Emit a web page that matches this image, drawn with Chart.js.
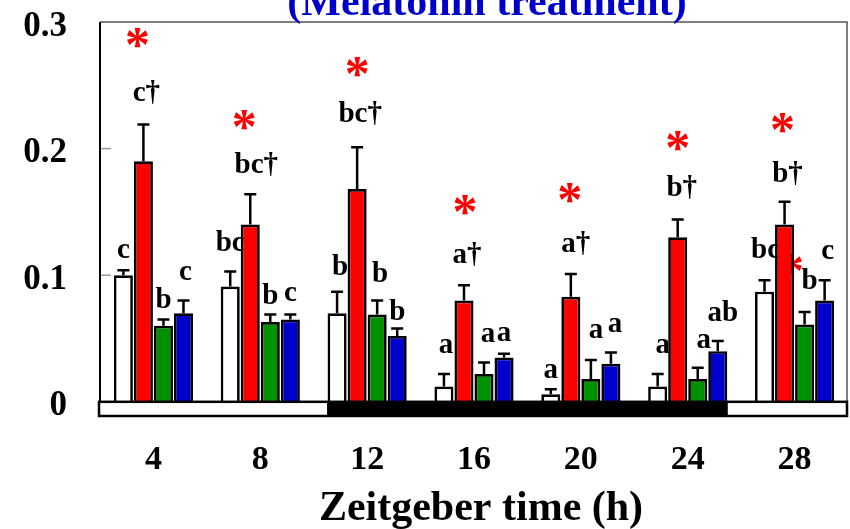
<!DOCTYPE html>
<html>
<head>
<meta charset="utf-8">
<script src="https://cdn.jsdelivr.net/npm/chart.js@4/dist/chart.umd.min.js"></script>
<style>
  html, body { margin: 0; padding: 0; background: #ffffff; }
  #wrap { width: 850px; height: 529px; position: relative; }
</style>
</head>
<body>
<div id="wrap"><canvas id="chart"></canvas></div>
<script>
// Sampling times (Zeitgeber time, h)
const hours = ['4', '8', '12', '16', '20', '24', '28'];
const yTicks = [0, 0.1, 0.2, 0.3];
const yTickText = ['0', '0.1', '0.2', '0.3'];

// Group means and SE (upper error only)
const whiteVals = [0.100, 0.091, 0.070, 0.012, 0.006, 0.012, 0.087];
const whiteErr  = [0.004, 0.012, 0.017, 0.010, 0.004, 0.010, 0.009];
const redVals   = [0.190, 0.140, 0.168, 0.080, 0.083, 0.130, 0.140];
const redErr    = [0.029, 0.024, 0.033, 0.012, 0.018, 0.014, 0.018];
const greenVals = [0.060, 0.063, 0.069, 0.022, 0.018, 0.018, 0.061];
const greenErr  = [0.005, 0.006, 0.011, 0.009, 0.015, 0.009, 0.010];
const blueVals  = [0.070, 0.065, 0.052, 0.035, 0.030, 0.040, 0.080];
const blueErr   = [0.010, 0.004, 0.006, 0.003, 0.009, 0.008, 0.016];

// Significance letters
const whiteSig = ['c', 'bc', 'b', 'a', 'a', 'a', 'bc'];
const redSig   = ['c\u2020', 'bc\u2020', 'bc\u2020', 'a\u2020', 'a\u2020', 'b\u2020', 'b\u2020'];
const greenSig = ['b', 'b', 'b', 'a', 'a', 'a', 'b'];
const blueSig  = ['c', 'c', 'b', 'a', 'a', 'ab', 'c'];

// Light/dark phases: first and last dark sampling index
const darkFirst = 2;
const darkLast = 5;

// Letter placement: px above the error cap, px sideways from the bar centre
const whiteLift  = [12, 20, 17, 21, 11, 21, 22];
const whiteShift = [0, 0, 3, 2, 0, 5, 1];
const redLift    = [24, 21, 25, 22, 22, 24, 20];
const redShift   = [3, 6, 3, 3, 5, 4, 3];
const greenLift  = [12, 10, 19, 21, 22, 20, 23];
const greenShift = [0, 0, 3, 4, 5, 6, 5];
const blueLift   = [21, 13, 8, 13, 20, 20, 21];
const blueShift  = [2, 0, 0, 0, 4, 5, 3];
// Red asterisks: px above the red letters, px sideways
const starLift  = [63, 53, 55, 58, 59, 55, 59];
const starShift = [-6, -6, 0, 1, -1, 0, -2];
// Stray asterisk tucked behind the last red bar
const backStar = { index: 6, shift: 7, drop: 39 };

const series = [
  { name: 'Group A', vals: whiteVals, err: whiteErr, sig: whiteSig, fill: '#ffffff', lift: whiteLift, shift: whiteShift },
  { name: 'Group B', vals: redVals,   err: redErr,   sig: redSig,   fill: '#ff0000', lift: redLift,   shift: redShift },
  { name: 'Group C', vals: greenVals, err: greenErr, sig: greenSig, fill: '#009100', lift: greenLift, shift: greenShift },
  { name: 'Group D', vals: blueVals,  err: blueErr,  sig: blueSig,  fill: '#0000cc', lift: blueLift,  shift: blueShift }
];

const CAT_PCT = 0.75;
const SERIF = '"Liberation Serif", "Times New Roman", serif';

function drawText(ctx, str, x, y, font, color, align) {
  ctx.save();
  ctx.font = font;
  ctx.fillStyle = color;
  ctx.textAlign = align || 'center';
  ctx.textBaseline = 'alphabetic';
  ctx.fillText(str, x, y);
  ctx.restore();
}

// Draw a glyph so that its inked box is centred on (x, y)
function drawCentered(ctx, str, x, y, font, color) {
  ctx.save();
  ctx.font = font;
  ctx.fillStyle = color;
  ctx.textAlign = 'left';
  ctx.textBaseline = 'alphabetic';
  const m = ctx.measureText(str);
  const w = m.actualBoundingBoxRight + m.actualBoundingBoxLeft;
  const h = m.actualBoundingBoxAscent + m.actualBoundingBoxDescent;
  ctx.fillText(str, x - w / 2 + m.actualBoundingBoxLeft, y + h / 2 - m.actualBoundingBoxDescent);
  ctx.restore();
}

const annotate = {
  id: 'annotate',
  beforeDatasetsDraw(chart) {
    const ctx = chart.ctx;
    const y = chart.scales.y;
    const letterFont = 'bold 29px ' + SERIF;
    const starFont = 'bold 50px ' + SERIF;
    series.forEach((s, si) => {
      const meta = chart.getDatasetMeta(si);
      meta.data.forEach((bar, i) => {
        const capY = y.getPixelForValue(s.vals[i] + s.err[i]);
        const bx = bar.x + s.shift[i];
        const by = capY - s.lift[i];
        drawText(ctx, s.sig[i], bx, by, letterFont, '#000000', 'center');
        if (si === 1) {
          drawCentered(ctx, '*', bar.x + starShift[i], by - starLift[i], starFont, '#ff0000');
        }
      });
    });
    const redBar = chart.getDatasetMeta(1).data[backStar.index];
    drawCentered(ctx, '*', redBar.x + backStar.shift, redBar.y + backStar.drop, starFont, '#ff0000');
  },
  afterDatasetsDraw(chart) {
    const ctx = chart.ctx;
    const x = chart.scales.x;
    const y = chart.scales.y;
    const area = chart.chartArea;
    const y0 = y.getPixelForValue(0);

    // error bars
    ctx.save();
    ctx.strokeStyle = '#000000';
    ctx.lineWidth = 2.5;
    series.forEach((s, si) => {
      chart.getDatasetMeta(si).data.forEach((bar, i) => {
        const top = y.getPixelForValue(s.vals[i]);
        const cap = y.getPixelForValue(s.vals[i] + s.err[i]);
        ctx.beginPath();
        ctx.moveTo(bar.x, top);
        ctx.lineTo(bar.x, cap);
        ctx.moveTo(bar.x - 6, cap);
        ctx.lineTo(bar.x + 6, cap);
        ctx.stroke();
      });
    });
    ctx.restore();

    // frame (top and right)
    ctx.save();
    ctx.strokeStyle = '#555555';
    ctx.lineWidth = 1.5;
    ctx.beginPath();
    ctx.moveTo(area.left, area.top);
    ctx.lineTo(area.right - 1, area.top);
    ctx.lineTo(area.right - 1, area.bottom);
    ctx.stroke();
    ctx.restore();

    // light/dark bar under the axis
    const cw = (area.right - area.left) / hours.length;
    const bandTop = y0;
    const bandBot = area.bottom - 1;
    ctx.save();
    ctx.fillStyle = '#ffffff';
    ctx.fillRect(area.left - 1, bandTop, area.right - area.left, bandBot - bandTop);
    ctx.fillStyle = '#000000';
    const dx0 = x.getPixelForValue(darkFirst) - cw * CAT_PCT / 2;
    const dx1 = x.getPixelForValue(darkLast) + cw * CAT_PCT / 2;
    ctx.fillRect(dx0, bandTop, dx1 - dx0, bandBot - bandTop);
    ctx.strokeStyle = '#000000';
    ctx.lineWidth = 2.5;
    ctx.strokeRect(area.left - 1, bandTop, area.right - area.left, bandBot - bandTop);
    ctx.restore();

    // y axis line and inner tick marks
    ctx.save();
    ctx.strokeStyle = '#000000';
    ctx.lineWidth = 2;
    ctx.beginPath();
    ctx.moveTo(area.left, area.top);
    ctx.lineTo(area.left, y0);
    ctx.stroke();
    ctx.strokeStyle = '#999999';
    ctx.lineWidth = 1.5;
    yTicks.forEach(v => {
      if (v <= 0 || v >= 0.3) return;
      const py = y.getPixelForValue(v);
      ctx.beginPath();
      ctx.moveTo(area.left + 1, py);
      ctx.lineTo(area.left + 11, py);
      ctx.stroke();
    });
    ctx.restore();

    // y tick labels
    const yFont = 'bold 35px ' + SERIF;
    ctx.save();
    ctx.font = yFont;
    const dm = ctx.measureText('0');
    ctx.restore();
    yTicks.forEach((v, i) => {
      const py = y.getPixelForValue(v);
      drawText(ctx, yTickText[i], 67, py + 1.5 + dm.actualBoundingBoxAscent / 2, yFont, '#000000', 'right');
    });

    // x tick labels
    hours.forEach((h, i) => {
      drawText(ctx, h, x.getPixelForValue(i), 469, 'bold 34px ' + SERIF, '#000000', 'center');
    });

    // axis title and chart title
    drawText(ctx, 'Zeitgeber time (h)', 481, 520, 'bold 42px ' + SERIF, '#000000', 'center');
    drawText(ctx, '(Melatonin treatment)', 487, 15, 'bold 42px ' + SERIF, '#0000cc', 'center');
  }
};

new Chart(document.getElementById('chart'), {
  type: 'bar',
  data: {
    labels: hours,
    datasets: series.map(s => ({
      label: s.name,
      data: s.vals,
      backgroundColor: s.fill,
      borderColor: '#000000',
      borderWidth: 2.7,
      borderSkipped: 'start',
      categoryPercentage: CAT_PCT,
      barPercentage: 0.95
    }))
  },
  options: {
    responsive: true,
    maintainAspectRatio: false,
    devicePixelRatio: 1,
    animation: false,
    layout: { padding: { left: 100, right: 2, top: 22, bottom: 112 } },
    plugins: { legend: { display: false }, tooltip: { enabled: false } },
    scales: {
      x: { display: false, offset: true, grid: { display: false } },
      y: { display: false, min: -0.012, max: 0.3 }
    }
  },
  plugins: [annotate]
});
</script>
</body>
</html>
